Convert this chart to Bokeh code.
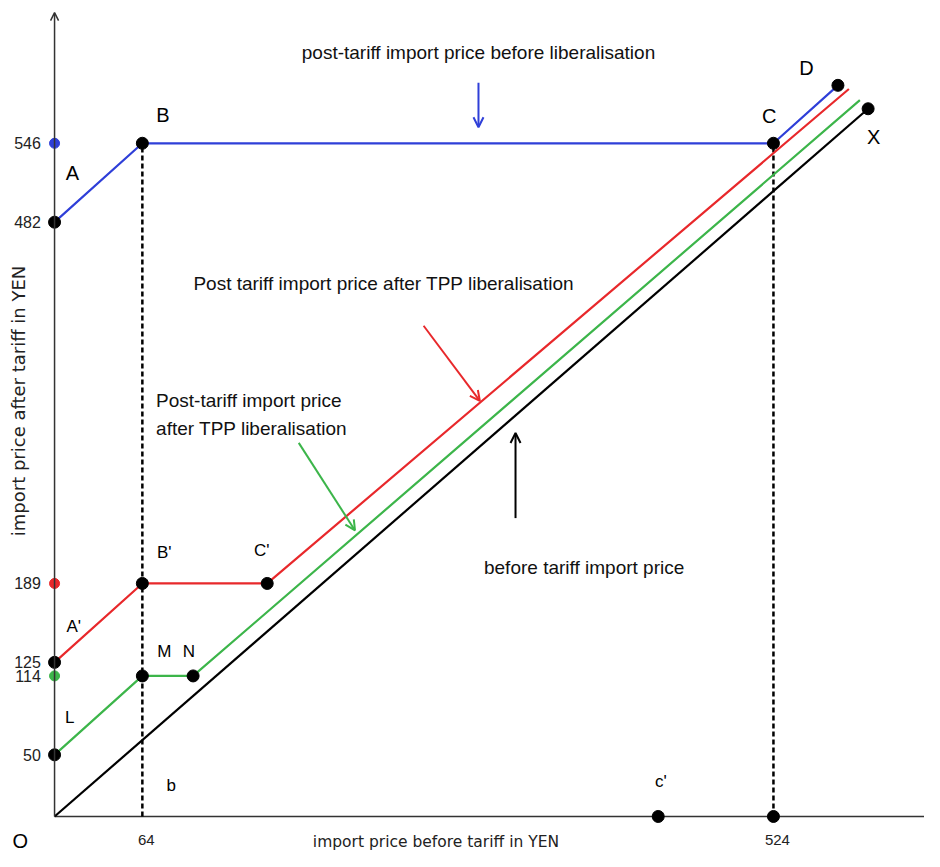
from math import pi
from bokeh.plotting import figure
from bokeh.models import Range1d, Arrow, OpenHead
from bokeh.core.properties import value
from bokeh.embed import file_html
from bokeh.resources import INLINE

# ---------------- data (yen) ----------------
blue_x = [0, 64, 524, 571]          # A -> B -> C -> D
blue_y = [482, 546, 546, 593]
red_x = [0, 64, 155, 579]           # A' -> B' -> C' -> ...
red_y = [125, 189, 189, 590]
green_x = [0, 64, 101, 587]         # L -> M -> N -> ...
green_y = [50, 114, 114, 581]
black_x = [0, 593]                  # O -> X
black_y = [0, 574]

drop_x = [64, 524]                  # dashed verticals
drop_top = [546, 546]

y_tick_vals = [546, 482, 189, 125, 114, 50]
y_tick_text = ["546", "482", "189", "125", "114", "50"]
x_tick_vals = [64, 524]
x_tick_text = ["64", "524"]

axis_dot_y = [546, 189, 114]
axis_dot_colors = ["#2f3fd8", "#e8282b", "#3cb54a"]

pt_x = [64, 524, 571, 593, 0, 0, 64, 155, 0, 64, 101, 524, 440]
pt_y = [546, 546, 593, 574, 482, 125, 189, 189, 50, 114, 114, 0, 0]

# point letter labels and their anchor positions (data units)
big_labels = ["A", "B", "C", "D", "X", "O"]
big_lx = [13, 79, 521, 548, 597, -25]
big_ly = [522, 569, 568, 607, 551, -19.5]
small_labels = ["A'", "B'", "C'", "M", "N", "L", "b", "c'"]
small_lx = [14, 80, 151, 80, 98, 11, 85, 442]
small_ly = [154, 214, 216, 134, 134, 80, 25, 28]

BLUE, RED, GREEN = "#2f3fd8", "#e8282b", "#3cb54a"
SANS = value("Liberation Sans")

# ---------------- figure ----------------
p = figure(width=924, height=851, output_backend="svg", toolbar_location=None,
           x_axis_type=None, y_axis_type=None,
           x_range=Range1d(-39.4, 634.1), y_range=Range1d(-28.4, 661.8),
           min_border=0)
p.outline_line_color = None
p.background_fill_color = "white"
p.border_fill_color = "white"

# axes
p.add_layout(Arrow(end=OpenHead(size=8, line_color="#333333", line_width=1.5),
                   x_start=0, y_start=0, x_end=0, y_end=652,
                   line_color="#333333", line_width=1.5))
p.segment(x0=[0], y0=[0], x1=[640], y1=[0], line_color="#333333", line_width=1.5)

# dashed drop lines
p.segment(x0=drop_x, y0=[0, 0], x1=drop_x, y1=drop_top,
          line_color="black", line_width=2.5, line_dash="5 3")

# price lines
p.line(black_x, black_y, line_color="black", line_width=2.2)
p.line(green_x, green_y, line_color=GREEN, line_width=2.2)
p.line(red_x, red_y, line_color=RED, line_width=2.2)
p.line(blue_x, blue_y, line_color=BLUE, line_width=2.2)

# dots
p.scatter([0, 0, 0], axis_dot_y, size=10, color=axis_dot_colors)
p.scatter(pt_x, pt_y, size=12, color="black")

# tick labels
p.text(x=[-10] * len(y_tick_vals), y=y_tick_vals, text=y_tick_text,
       text_font=SANS, text_font_size="16px",
       text_align="right", text_baseline="middle", text_color="#222222")
p.text(x=x_tick_vals, y=[-19, -19], text=x_tick_text, x_offset=4,
       text_font=SANS, text_font_size="15px",
       text_align="center", text_baseline="middle", text_color="#222222")

# axis titles
p.text(x=[-26], y=[337], text=["import price after tariff in YEN"], angle=pi / 2,
       text_font=value("DejaVu Sans"), text_font_size="18px",
       text_align="center", text_baseline="middle", text_color="#222222")
p.text(x=[278], y=[-21], text=["import price before tariff in YEN"],
       text_font=value("DejaVu Sans"), text_font_size="15.5px",
       text_align="center", text_baseline="middle", text_color="#222222")

# point labels
p.text(x=big_lx, y=big_ly, text=big_labels,
       text_font=SANS, text_font_size="20px",
       text_align="center", text_baseline="middle", text_color="black")
p.text(x=small_lx, y=small_ly, text=small_labels,
       text_font=SANS, text_font_size="17px",
       text_align="center", text_baseline="middle", text_color="black")

# annotation texts
p.text(x=[309], y=[620], text=["post-tariff import price before liberalisation"],
       text_font=SANS, text_font_size="19px",
       text_align="center", text_baseline="middle", text_color="#111111")
p.text(x=[240], y=[432], text=["Post tariff import price after TPP liberalisation"],
       text_font=SANS, text_font_size="19px",
       text_align="center", text_baseline="middle", text_color="#111111")
p.text(x=[74, 74], y=[337, 315], text=["Post-tariff import price", "after TPP liberalisation"],
       text_font=SANS, text_font_size="19px",
       text_align="left", text_baseline="middle", text_color="#111111")
p.text(x=[386], y=[202], text=["before tariff import price"],
       text_font=SANS, text_font_size="19px",
       text_align="center", text_baseline="middle", text_color="#111111")

# pointer arrows
def pointer(x0, y0, x1, y1, color):
    p.add_layout(Arrow(end=OpenHead(size=10, line_color=color, line_width=2),
                       x_start=x0, y_start=y0, x_end=x1, y_end=y1,
                       line_color=color, line_width=2))

pointer(309, 595, 309, 559, BLUE)
pointer(269, 398, 310, 337, RED)
pointer(178, 303, 219, 232, GREEN)
pointer(336, 242, 336, 311, "black")

open("out.html", "w").write(file_html(p, INLINE))
